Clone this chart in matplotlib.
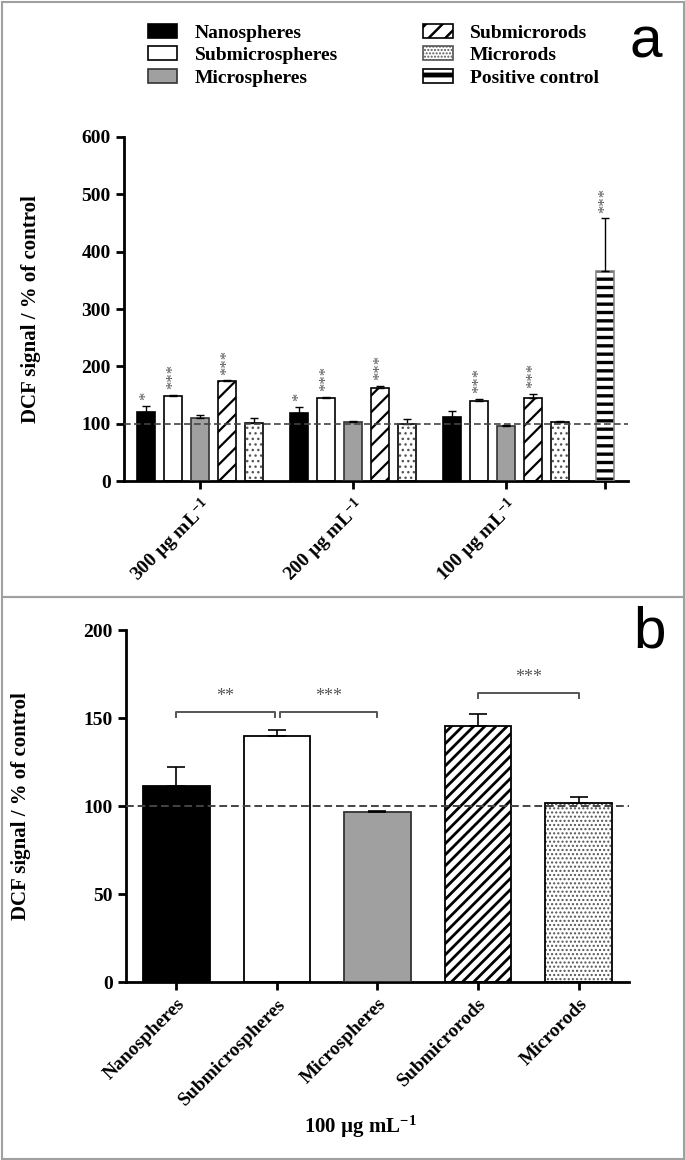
import matplotlib
matplotlib.use("Agg")
import matplotlib.pyplot as plt
from matplotlib.patches import Patch, Rectangle
import numpy as np

plt.rcParams['font.family'] = ['Liberation Serif', 'DejaVu Serif']
plt.rcParams['font.weight'] = 'bold'
plt.rcParams['axes.labelweight'] = 'bold'
plt.rcParams['mathtext.fontset'] = 'custom'
plt.rcParams['mathtext.rm'] = 'Liberation Serif:bold'
plt.rcParams['mathtext.bf'] = 'Liberation Serif:bold'
plt.rcParams['mathtext.default'] = 'rm'

# ---- data ----
particles = ['Nanospheres', 'Submicrospheres', 'Microspheres', 'Submicrorods', 'Microrods']
doses = ['300 µg mL$^{-1}$', '200 µg mL$^{-1}$', '100 µg mL$^{-1}$']

# panel a: rows = particle, cols = dose (300, 200, 100)
mean_a = [[120, 118, 112],
          [148, 144, 140],
          [110, 103, 96.5],
          [174, 163, 145],
          [101, 100, 102.5]]
err_a = [[11, 12, 10.5],
         [2, 2.5, 3],
         [4.5, 1.5, 1],
         [1.5, 3, 7.5],
         [9, 8, 3]]
stars_a = [['*', '*', ''],
           ['***', '***', '***'],
           ['', '', ''],
           ['***', '***', '***'],
           ['', '', '']]
control_mean = 367
control_err = 91

# panel b: 100 µg/mL
mean_b = [111.5, 140, 96.5, 145.5, 102]
err_b = [10.5, 3.3, 0.7, 7, 3]
brackets_b = [(0, 1, 153.5, '**'), (1, 2, 153.5, '***'), (3, 4, 164, '***')]

GREY = '#a0a0a0'
STAR = '#555555'


def style_for(i, dense):
    # returns facecolor, hatch, hatch colour
    if i == 0:
        return 'black', None, None
    if i == 1:
        return 'white', None, None
    if i == 2:
        return GREY, None, None
    if i == 3:
        return 'white', ('///' if dense else '//'), 'black'
    return 'white', ('....' if dense else '...'), '#555555'


def set_hlw(p, w):
    try:
        p.set_hatch_linewidth(w)
    except AttributeError:
        pass


def draw_bar(ax, x, h, w, i, dense, hlw, elw):
    fc, hatch, hc = style_for(i, dense)
    if hatch:
        b = ax.bar(x, h, w, color=fc, edgecolor=hc, hatch=hatch, linewidth=0, zorder=2)
        set_hlw(b[0], hlw if i == 3 else 1.0)
    else:
        ax.bar(x, h, w, color=fc, linewidth=0, zorder=2)
    ax.bar(x, h, w, fill=False, edgecolor='black' if i != 2 else '#333333',
           linewidth=elw, zorder=3)


def style_axes(ax):
    for s in ['top', 'right']:
        ax.spines[s].set_visible(False)
    for s in ['left', 'bottom']:
        ax.spines[s].set_linewidth(2)
    ax.tick_params(axis='both', width=2, length=6, labelsize=14, direction='out')


fig = plt.figure(figsize=(6.85, 11.6), dpi=100)

# panel frames
fig.add_artist(Rectangle((1.5 / 685, 1 - 597 / 1160), 682 / 685, 595.5 / 1160,
                         transform=fig.transFigure, fill=False, edgecolor='#a0a0a0', lw=1.5))
fig.add_artist(Rectangle((1.5 / 685, 1.5 / 1160), 682 / 685, 1 - 597 / 1160 - 1.5 / 1160,
                         transform=fig.transFigure, fill=False, edgecolor='#a0a0a0', lw=1.5))

# ---- panel a ----
axa = fig.add_axes([0.181, 0.5853, 0.736, 0.2966])
gap = 5 + 2 / 3
bw = 0.67
centers = [k * gap for k in range(len(doses))]
for i in range(len(particles)):
    for k in range(len(doses)):
        x = centers[k] + (i - 2)
        draw_bar(axa, x, mean_a[i][k], bw, i, False, 1.6, 1.2)
        axa.errorbar(x, mean_a[i][k], yerr=[[0], [err_a[i][k]]], fmt='none',
                     ecolor='black', elinewidth=1, capsize=3.2, capthick=1, zorder=4)
        if stars_a[i][k]:
            axa.annotate(stars_a[i][k], (x, mean_a[i][k] + err_a[i][k]),
                         xytext=(0, 4), textcoords='offset points', rotation=90,
                         ha='center', va='bottom', fontsize=12, color=STAR,
                         fontweight='normal')
xc = centers[-1] + 2 + 1 + 2 / 3
b = axa.bar(xc, control_mean, bw, color='white', edgecolor='black', hatch='--',
            linewidth=0, zorder=2)
set_hlw(b[0], 2.4)
axa.bar(xc, control_mean, bw, fill=False, edgecolor='#888888', linewidth=1.2, zorder=3)
axa.errorbar(xc, control_mean, yerr=[[0], [control_err]], fmt='none',
             ecolor='black', elinewidth=1, capsize=3.2, capthick=1, zorder=4)
axa.annotate('***', (xc, control_mean + control_err), xytext=(0, 4),
             textcoords='offset points', rotation=90, ha='center', va='bottom',
             fontsize=12, color=STAR, fontweight='normal')

axa.axhline(100, color='#444444', lw=1.2, ls=(0, (4, 2)), zorder=5)
axa.set_xlim(-2.81, 15.85)
axa.set_ylim(0, 600)
axa.set_yticks(np.arange(0, 601, 100))
axa.set_xticks(centers + [xc])
axa.set_xticklabels(doses + [''], rotation=45, ha='right', rotation_mode='anchor')
style_axes(axa)
axa.set_ylabel('DCF signal / % of control', fontsize=15)
axa.yaxis.set_label_coords(-0.165, 0.5)

handles = []
for i, name in enumerate(particles):
    fc, hatch, hc = style_for(i, False)
    if i == 3:
        p = Patch(facecolor='white', edgecolor='black', hatch='//', linewidth=1.2, label=name)
    elif i == 4:
        p = Patch(facecolor='white', edgecolor='#555555', hatch='.....', linewidth=1.2, label=name)
    else:
        p = Patch(facecolor=fc, edgecolor='black' if i != 2 else '#333333', linewidth=1.2, label=name)
    handles.append(p)
pc = Patch(facecolor='white', edgecolor='black', hatch='-', linewidth=1.2,
           label='Positive control')
handles.append(pc)
leg = fig.legend(handles=handles, ncol=2, loc='upper left',
                 bbox_to_anchor=(148 / 685, 1 - 24 / 1160), frameon=False,
                 fontsize=14, handlelength=1.5, handleheight=0.7, handletextpad=0.9,
                 labelspacing=0.25, columnspacing=4.4, borderpad=0, borderaxespad=0)
for h in leg.legend_handles:
    if h.get_label() == 'Positive control':
        set_hlw(h, 3.5)
    elif h.get_label() == 'Submicrorods':
        set_hlw(h, 1.8)

fig.text(646 / 685, 1 - 43 / 1160, 'a', fontsize=42, family='Liberation Sans',
         fontweight='normal', ha='center', va='center')

# ---- panel b ----
axb = fig.add_axes([0.184, 0.1534, 0.734, 0.3034])
xb = np.arange(len(particles))
for i in range(len(particles)):
    draw_bar(axb, xb[i], mean_b[i], 0.66, i, True, 2.0, 1.3)
    axb.errorbar(xb[i], mean_b[i], yerr=[[0], [err_b[i]]], fmt='none',
                 ecolor='black', elinewidth=1.2, capsize=6.5, capthick=1.2, zorder=4)
axb.axhline(100, color='#444444', lw=1.4, ls=(0, (4, 2)), zorder=5)
for a0, a1, yv, s in brackets_b:
    xa = xb[a0] + (0.03 if a0 == 1 else 0)
    xb1 = xb[a1] - (0.02 if a1 == 1 else 0)
    axb.plot([xa, xa, xb1, xb1], [yv - 2.7, yv, yv, yv - 2.7], color=STAR, lw=1.4,
             clip_on=False)
    axb.text((xa + xb1) / 2, yv + 4, s, ha='center', va='bottom', fontsize=13,
             color=STAR, fontweight='normal')
axb.set_xlim(-0.5, 4.5)
axb.set_ylim(0, 200)
axb.set_yticks(np.arange(0, 201, 50))
axb.set_xticks(xb)
axb.set_xticklabels(particles, rotation=45, ha='right', rotation_mode='anchor')
style_axes(axb)
axb.set_ylabel('DCF signal / % of control', fontsize=15)
axb.yaxis.set_label_coords(-0.19, 0.5)
fig.text(360 / 685, 1 - 1127 / 1160, '100 µg mL$^{-1}$', fontsize=15,
         ha='center', va='center')
fig.text(650 / 685, 1 - 632 / 1160, 'b', fontsize=42, family='Liberation Sans',
         fontweight='normal', ha='center', va='center')

fig.savefig('out.png', dpi=100)
